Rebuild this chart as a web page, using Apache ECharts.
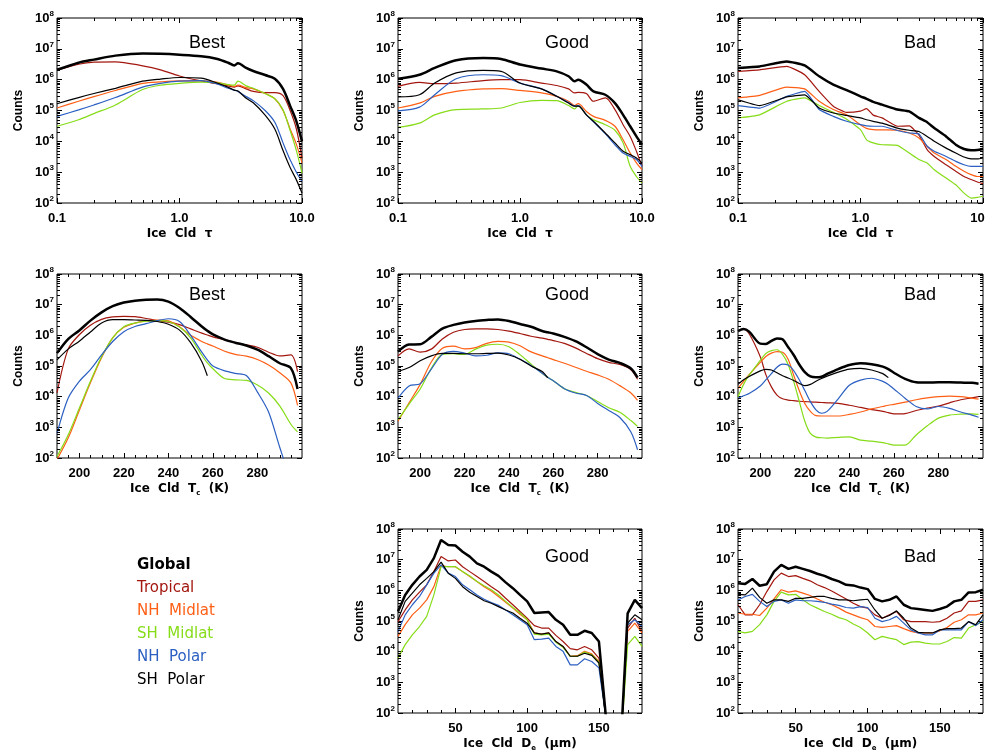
<!DOCTYPE html>
<html>
<head>
<meta charset="utf-8">
<script src="https://cdn.jsdelivr.net/npm/echarts@6/dist/echarts.min.js"></script>
<style>html,body{margin:0;padding:0;background:#fff}#c{width:985px;height:751px}</style>
</head>
<body>
<div id="c"></div>
<script>
// ---------------- DATA (values are log10 of Counts) ----------------
const seriesNames = ['Global', 'Tropical', 'NH Midlat', 'SH Midlat', 'NH Polar', 'SH Polar'];

// Tick labels
const countTicks = [1e2, 1e3, 1e4, 1e5, 1e6, 1e7, 1e8];
const tauTicks = [0.1, 1.0, 10.0];
const tempTicks = [200, 220, 240, 260, 280];
const deTicks = [50, 100, 150];

// Row 1: Ice cloud optical depth tau
const tauX = [0.1, 0.15, 0.2, 0.3, 0.5, 0.7, 1.0, 1.5, 2.0, 2.5, 2.8, 3.0, 3.5, 4.0, 5.0, 6.0, 7.0, 8.0, 9.0, 10];
const bestTauGlobal   = [6.32, 6.55, 6.65, 6.78, 6.85, 6.84, 6.81, 6.76, 6.68, 6.55, 6.46, 6.53, 6.38, 6.28, 6.15, 6.03, 5.70, 5.15, 4.65, 4.00];
const bestTauTropical = [6.30, 6.50, 6.57, 6.58, 6.45, 6.32, 6.12, 5.96, 5.87, 5.80, 5.76, 5.80, 5.70, 5.62, 5.58, 5.58, 5.48, 5.00, 4.40, 3.45];
const bestTauNHMid    = [5.08, 5.30, 5.45, 5.65, 5.88, 5.93, 5.96, 5.96, 5.92, 5.83, 5.78, 5.82, 5.74, 5.70, 5.55, 5.38, 5.00, 4.40, 3.90, 3.30];
const bestTauSHMid    = [4.49, 4.70, 4.90, 5.18, 5.68, 5.82, 5.88, 5.92, 5.90, 5.84, 5.82, 5.95, 5.80, 5.72, 5.55, 5.38, 5.02, 4.35, 3.70, 2.97];
const bestTauNHPol    = [4.81, 5.02, 5.18, 5.42, 5.76, 5.88, 5.95, 5.97, 5.87, 5.72, 5.66, 5.62, 5.45, 5.32, 5.00, 4.62, 3.95, 3.40, 3.00, 2.70];
const bestTauSHPol    = [5.22, 5.42, 5.55, 5.72, 5.95, 6.02, 6.07, 6.05, 5.90, 5.75, 5.66, 5.63, 5.40, 5.25, 4.85, 4.40, 3.70, 3.15, 2.75, 2.32];

const goodTauGlobal   = [6.03, 6.16, 6.38, 6.63, 6.70, 6.67, 6.49, 6.36, 6.27, 6.11, 5.95, 6.00, 5.84, 5.62, 5.51, 5.24, 4.86, 4.49, 4.16, 3.89];
const goodTauTropical = [5.78, 5.91, 5.87, 5.89, 5.97, 6.00, 6.00, 5.89, 5.81, 5.70, 5.57, 5.59, 5.55, 5.30, 5.41, 5.03, 4.54, 4.16, 3.68, 3.19];
const goodTauNHMid    = [5.08, 5.24, 5.46, 5.62, 5.70, 5.71, 5.65, 5.57, 5.46, 5.30, 5.16, 5.22, 4.97, 4.81, 4.68, 4.49, 4.05, 3.62, 3.30, 3.08];
const goodTauSHMid    = [4.45, 4.59, 4.86, 5.03, 5.05, 5.08, 5.26, 5.33, 5.32, 5.16, 5.05, 5.16, 4.86, 4.70, 4.54, 4.36, 3.95, 3.19, 2.86, 2.65];
const goodTauNHPol    = [4.99, 5.11, 5.51, 6.03, 6.16, 6.13, 5.89, 5.70, 5.46, 5.26, 5.14, 5.16, 4.86, 4.63, 4.25, 3.89, 3.62, 3.51, 3.41, 3.19];
const goodTauSHPol    = [5.44, 5.51, 5.89, 6.22, 6.30, 6.27, 5.89, 5.70, 5.46, 5.24, 5.14, 5.14, 4.86, 4.65, 4.27, 3.95, 3.68, 3.57, 3.46, 3.30];

const tauBadX = [0.1, 0.15, 0.25, 0.35, 0.46, 0.6, 0.77, 1.0, 1.12, 1.27, 1.5, 2.0, 2.5, 3.0, 3.5, 4.0, 5.0, 6.0, 7.0, 8.0, 9.0, 10];
const badTauGlobal   = [6.38, 6.43, 6.59, 6.46, 6.11, 5.84, 5.66, 5.46, 5.38, 5.28, 5.19, 5.03, 4.97, 4.76, 4.62, 4.43, 4.16, 3.89, 3.75, 3.71, 3.72, 3.75];
const badTauTropical = [6.27, 6.32, 6.43, 6.16, 5.62, 5.14, 4.94, 4.98, 5.06, 4.85, 4.76, 4.49, 4.50, 4.20, 3.73, 3.51, 3.24, 3.03, 2.86, 2.76, 2.68, 2.63];
const badTauNHMid    = [5.41, 5.49, 5.76, 5.70, 5.30, 5.03, 4.86, 4.54, 4.42, 4.38, 4.37, 4.36, 4.27, 4.11, 3.84, 3.62, 3.41, 3.19, 3.03, 2.92, 2.86, 2.86];
const badTauSHMid    = [4.76, 4.86, 5.30, 5.41, 5.16, 4.94, 4.72, 4.38, 4.05, 3.95, 3.89, 3.87, 3.62, 3.41, 3.30, 3.08, 2.81, 2.59, 2.32, 2.16, 2.18, 2.22];
const badTauNHPol    = [5.16, 5.08, 5.46, 5.62, 5.03, 4.81, 4.65, 4.54, 4.50, 4.49, 4.49, 4.35, 4.27, 4.24, 3.84, 3.68, 3.51, 3.35, 3.24, 3.19, 3.19, 3.19];
const badTauSHPol    = [5.35, 5.16, 5.44, 5.51, 5.08, 4.92, 4.84, 4.76, 4.70, 4.65, 4.59, 4.43, 4.36, 4.32, 4.16, 4.00, 3.78, 3.62, 3.49, 3.43, 3.43, 3.46];

// Row 2: Ice cloud top temperature (K)
const tempX = [190, 195, 200, 205, 210, 215, 220, 225, 230, 235, 240, 245, 250, 255, 257.5, 260, 265, 270, 275, 280, 285, 290, 295, 298];
const bestTGlobal   = [5.42, 5.88, 6.16, 6.48, 6.75, 6.95, 7.07, 7.13, 7.16, 7.17, 7.10, 6.89, 6.60, 6.29, 6.15, 6.03, 5.87, 5.76, 5.67, 5.53, 5.32, 5.09, 4.93, 4.25];
const bestTTropical = [4.12, 5.55, 6.02, 6.33, 6.52, 6.60, 6.62, 6.61, 6.55, 6.48, 6.43, 6.35, 6.21, 6.07, 6.01, 5.95, 5.86, 5.76, 5.69, 5.61, 5.45, 5.33, 5.36, 4.82];
const bestTNHMid    = [1.95, 2.65, 3.55, 4.45, 5.27, 5.92, 6.26, 6.40, 6.47, 6.50, 6.47, 6.28, 6.00, 5.80, 5.72, 5.65, 5.49, 5.38, 5.32, 5.21, 5.03, 4.78, 4.45, 3.72];
const bestTSHMid    = [2.05, 2.75, 3.62, 4.50, 5.30, 5.92, 6.28, 6.40, 6.46, 6.48, 6.45, 6.27, 5.92, 5.35, 5.10, 4.91, 4.60, 4.55, 4.53, 4.38, 4.12, 3.70, 3.10, 2.85];
const bestTNHPol    = [2.80, 3.95, 4.50, 4.88, 5.36, 5.80, 6.12, 6.29, 6.38, 6.48, 6.54, 6.45, 6.00, 5.45, 5.20, 5.00, 4.85, 4.76, 4.69, 4.15, 3.50, 2.35, 1.30, 1.00];
const bestTSHPol    = [5.20, 5.55, 5.81, 6.11, 6.40, 6.51, 6.51, 6.50, 6.49, 6.45, 6.36, 6.17, 5.76, 5.15, 4.68, null, null, null, null, null, null, null, null, null];

const goodTGlobal   = [5.47, 5.70, 5.71, 5.95, 6.22, 6.34, 6.42, 6.47, 6.50, 6.52, 6.47, 6.37, 6.28, 6.14, 6.10, 6.06, 5.95, 5.81, 5.61, 5.39, 5.21, 5.10, 4.92, 4.62];
const goodTTropical = [5.33, 5.56, 5.45, 5.55, 5.88, 6.10, 6.19, 6.21, 6.21, 6.19, 6.14, 6.06, 5.97, 5.91, 5.87, 5.83, 5.74, 5.59, 5.41, 5.24, 5.12, 5.05, 4.88, 4.57];
const goodTNHMid    = [3.20, 3.80, 4.40, 5.13, 5.58, 5.65, 5.56, 5.60, 5.74, 5.80, 5.78, 5.66, 5.46, 5.33, 5.27, 5.21, 5.09, 4.96, 4.83, 4.71, 4.57, 4.36, 4.12, 3.88];
const goodTSHMid    = [3.25, 3.76, 4.25, 4.92, 5.38, 5.40, 5.38, 5.55, 5.68, 5.71, 5.63, 5.37, 5.06, 4.76, 4.63, 4.52, 4.26, 4.14, 4.04, 3.84, 3.64, 3.49, 3.22, 3.03];
const goodTNHPol    = [3.95, 4.35, 4.42, 4.90, 5.38, 5.48, 5.42, 5.33, 5.35, 5.43, 5.40, 5.22, 5.02, 4.76, 4.63, 4.52, 4.26, 4.12, 4.04, 3.78, 3.55, 3.32, 2.85, 2.27];
const goodTSHPol    = [4.82, 4.95, 5.17, 5.33, 5.41, 5.41, 5.40, 5.40, 5.41, 5.42, 5.36, 5.22, 5.00, 4.82, 4.61, null, null, null, null, null, null, null, null, null];

const tempBadX = [190, 192.5, 195, 200, 202.5, 205, 207.5, 210, 212.5, 215, 217.5, 220, 222.5, 225, 227.5, 230, 235, 240, 245, 250, 255, 257.5, 260, 265, 270, 275, 280, 285, 290, 295, 298];
const badTGlobal   = [6.14, 6.21, 6.12, 5.73, 5.72, 5.82, 5.90, 5.87, 5.62, 5.36, 5.05, 4.80, 4.66, 4.63, 4.65, 4.74, 4.90, 5.03, 5.09, 5.06, 4.98, 4.90, 4.78, 4.58, 4.47, 4.46, 4.47, 4.47, 4.46, 4.45, 4.42];
const badTTropical = [6.15, 6.20, 6.05, 5.30, 4.72, 4.32, 4.05, 3.93, 3.89, 3.87, 3.85, 3.84, 3.83, 3.82, 3.81, 3.80, 3.78, 3.72, 3.65, 3.58, 3.52, 3.48, 3.44, 3.45, 3.55, 3.63, 3.69, 3.80, 3.90, 3.96, 4.00];
const badTNHMid    = [4.27, 4.50, 4.72, 5.12, 5.31, 5.42, 5.47, 5.45, 5.22, 4.70, 4.20, 3.78, 3.52, 3.38, 3.37, 3.37, 3.37, 3.42, 3.50, 3.60, 3.68, 3.72, 3.75, 3.82, 3.90, 3.96, 4.00, 4.02, 4.00, 3.95, 3.92];
const badTSHMid    = [4.00, 4.40, 4.70, 5.18, 5.41, 5.50, 5.53, 5.38, 5.05, 4.50, 3.85, 3.20, 2.80, 2.68, 2.66, 2.65, 2.67, 2.69, 2.58, 2.55, 2.50, 2.46, 2.42, 2.42, 2.75, 3.05, 3.30, 3.40, 3.43, 3.44, 3.42];
const badTNHPol    = [3.95, 4.03, 4.10, 4.35, 4.55, 4.75, 4.96, 5.06, 5.03, 4.85, 4.55, 4.20, 3.84, 3.57, 3.46, 3.52, 3.93, 4.37, 4.54, 4.60, 4.50, 4.40, 4.25, 3.95, 3.68, 3.60, 3.68, 3.62, 3.50, 3.40, 3.33];
const badTSHPol    = [4.40, 4.55, 4.66, 4.84, 4.89, 4.87, 4.78, 4.68, 4.61, 4.53, 4.43, 4.36, 4.40, 4.50, 4.59, 4.67, 4.80, 4.90, 4.92, 4.87, 4.75, 4.62, null, null, null, null, null, null, null, null, null];

// Row 3: Ice cloud effective diameter De (um)
const deX = [10, 15, 20, 25, 30, 35, 40, 45, 50, 55, 60, 65, 70, 75, 80, 85, 90, 95, 100, 105, 110, 115, 120, 125, 130, 135, 140, 145, 150, 155, 160, 165, 170, 175, 180];
const goodDGlobal   = [5.31, 5.85, 6.18, 6.45, 6.67, 7.05, 7.64, 7.48, 7.46, 7.26, 7.10, 6.88, 6.77, 6.61, 6.47, 6.26, 6.07, 5.85, 5.64, 5.26, 5.28, 5.29, 5.04, 4.88, 4.55, 4.55, 4.68, 4.61, 4.33, 1.8, null, 0.8, 5.25, 5.69, 5.42];
const goodDTropical = [4.98, 5.36, 5.69, 5.94, 6.18, 6.61, 7.10, 6.96, 6.99, 6.77, 6.61, 6.45, 6.29, 6.12, 5.96, 5.74, 5.53, 5.31, 5.09, 4.85, 4.77, 4.77, 4.53, 4.33, 4.10, 4.06, 4.17, 4.06, 3.79, 1.8, null, 0.8, 4.77, 5.09, 4.66];
const goodDNHMid    = [4.50, 4.88, 5.20, 5.42, 5.69, 6.12, 6.81, 6.77, 6.77, 6.61, 6.45, 6.29, 6.12, 5.98, 5.80, 5.61, 5.42, 5.22, 5.04, 4.61, 4.57, 4.61, 4.33, 4.17, 3.85, 3.87, 4.01, 3.93, 3.68, 1.8, null, 0.8, 4.66, 4.93, 4.61];
const goodDSHMid    = [3.79, 4.23, 4.55, 4.82, 5.15, 5.85, 6.77, 6.77, 6.77, 6.61, 6.47, 6.29, 6.15, 6.02, 5.85, 5.64, 5.44, 5.26, 5.04, 4.57, 4.55, 4.57, 4.31, 4.14, 3.85, 3.85, 3.99, 3.90, 3.66, 1.8, null, 0.8, 4.23, 4.50, 4.17];
const goodDNHPol    = [4.66, 5.20, 5.53, 5.80, 6.18, 6.56, 6.83, 6.56, 6.45, 6.18, 6.02, 5.85, 5.71, 5.60, 5.51, 5.36, 5.20, 5.04, 4.88, 4.39, 4.41, 4.44, 4.17, 4.01, 3.57, 3.57, 3.77, 3.68, 3.47, 1.8, null, 0.8, 4.88, 5.04, 4.82];
const goodDSHPol    = [5.04, 5.64, 5.91, 6.18, 6.39, 6.61, 6.92, 6.56, 6.39, 6.12, 5.94, 5.80, 5.66, 5.58, 5.47, 5.36, 5.26, 5.09, 4.93, 4.61, 4.57, 4.61, 4.33, 4.17, 3.85, 3.85, 3.95, 3.88, 3.63, 1.8, null, 0.8, 4.93, 5.20, 5.04];

const badDGlobal   = [6.23, 6.21, 6.37, 6.15, 6.20, 6.61, 6.83, 6.70, 6.77, 6.70, 6.63, 6.54, 6.47, 6.37, 6.29, 6.18, 6.16, 6.09, 6.04, 5.72, 5.64, 5.69, 5.80, 5.53, 5.42, 5.39, 5.36, 5.33, 5.39, 5.47, 5.64, 5.69, 5.93, 5.94, 6.02];
const badDTropical = [5.53, 5.20, 5.20, 5.53, 5.96, 6.34, 6.56, 6.45, 6.48, 6.39, 6.31, 6.18, 6.09, 5.98, 5.85, 5.72, 5.58, 5.47, 5.42, 5.20, 5.09, 5.20, 5.31, 5.04, 4.98, 4.98, 4.98, 4.96, 4.98, 5.09, 5.26, 5.33, 5.64, 5.64, 5.69];
const badDNHMid    = [5.26, 5.22, 5.22, 5.18, 5.42, 5.72, 6.02, 5.94, 5.98, 5.91, 5.83, 5.72, 5.61, 5.53, 5.42, 5.29, 5.20, 5.11, 5.04, 4.82, 4.79, 4.82, 4.85, 4.75, 4.66, 4.61, 4.61, 4.61, 4.68, 4.79, 4.96, 5.04, 5.20, 5.20, 5.26];
const badDSHMid    = [4.66, 4.61, 4.66, 4.88, 5.20, 5.64, 5.94, 5.85, 5.87, 5.69, 5.53, 5.42, 5.31, 5.22, 5.11, 5.04, 4.90, 4.79, 4.61, 4.39, 4.50, 4.44, 4.39, 4.23, 4.31, 4.33, 4.28, 4.25, 4.25, 4.33, 4.46, 4.44, 4.77, 4.88, 4.98];
const badDNHPol    = [5.69, 5.80, 5.87, 5.64, 5.47, 5.64, 5.69, 5.58, 5.69, 5.66, 5.66, 5.64, 5.61, 5.55, 5.51, 5.44, 5.42, 5.47, 5.44, 5.09, 4.98, 5.04, 5.15, 4.93, 4.71, 4.61, 4.55, 4.55, 4.71, 4.71, 4.71, 4.71, 4.98, 4.85, 5.04];
const badDSHPol    = [5.87, 5.85, 6.07, 5.77, 5.58, 5.69, 5.69, 5.64, 5.74, 5.74, 5.77, 5.80, 5.80, 5.74, 5.69, 5.69, 5.66, 5.69, 5.71, 5.36, 5.09, 5.18, 5.33, 5.09, 4.77, 4.63, 4.61, 4.61, 4.71, 4.75, 4.75, 4.77, 4.98, 4.88, 5.20];

// ---------------- LAYOUT & STYLE ----------------
const FONT = '"Liberation Sans", Arial, sans-serif';
const WIDEFONT = '"DejaVu Sans", "Liberation Sans", sans-serif';
const seriesColors = ['#000000', '#a3170f', '#ff5f15', '#86dc18', '#2b5fc2', '#000000'];
const seriesWidths = [2.5, 1.2, 1.2, 1.2, 1.2, 1.2];
const colLeft = [57, 398, 738], colWidth = [245, 244, 245];
const rowTop = [18, 274, 529], rowHeight = [185, 184, 184];
const titleX = [207, 567, 920], titleY = [43, 295, 557];

function minorsOf(kind) {
  if (kind === 'tau') return [0.2,0.3,0.4,0.5,0.6,0.7,0.8,0.9,2,3,4,5,6,7,8,9];
  if (kind === 'temp') { const a=[]; for (let v=195; v<300; v+=5) if (tempTicks.indexOf(v)<0) a.push(v); return a; }
  const a=[]; for (let v=20; v<180; v+=10) if (deTicks.indexOf(v)<0) a.push(v); return a;
}
const countMinors = (function(){ const a=[]; for (let e=2;e<8;e++) for (let m=2;m<10;m++) a.push(m*Math.pow(10,e)); return a; })();

const axisKinds = {
  tau:  {type:'log', min:0.1, max:10, major: tauTicks, fmt: v => Number(v).toFixed(1), name:'Ice  Cld  τ'},
  temp: {type:'value', min:190, max:300, major: tempTicks, fmt: v => String(v), name:'Ice  Cld  T{sub|c}  (K)'},
  de:   {type:'value', min:10, max:180, major: deTicks, fmt: v => String(v), name:'Ice  Cld  D{sub|e}  (μm)'}
};

const panels = [
  {row:0, col:0, kind:'tau', title:'Best', x: tauX, ys:[bestTauGlobal, bestTauTropical, bestTauNHMid, bestTauSHMid, bestTauNHPol, bestTauSHPol]},
  {row:0, col:1, kind:'tau', title:'Good', x: tauX, ys:[goodTauGlobal, goodTauTropical, goodTauNHMid, goodTauSHMid, goodTauNHPol, goodTauSHPol]},
  {row:0, col:2, kind:'tau', title:'Bad', x: tauBadX, ys:[badTauGlobal, badTauTropical, badTauNHMid, badTauSHMid, badTauNHPol, badTauSHPol]},
  {row:1, col:0, kind:'temp', title:'Best', x: tempX, ys:[bestTGlobal, bestTTropical, bestTNHMid, bestTSHMid, bestTNHPol, bestTSHPol]},
  {row:1, col:1, kind:'temp', title:'Good', x: tempX, ys:[goodTGlobal, goodTTropical, goodTNHMid, goodTSHMid, goodTNHPol, goodTSHPol]},
  {row:1, col:2, kind:'temp', title:'Bad', x: tempBadX, ys:[badTGlobal, badTTropical, badTNHMid, badTSHMid, badTNHPol, badTSHPol]},
  {row:2, col:1, kind:'de', title:'Good', x: deX, ys:[goodDGlobal, goodDTropical, goodDNHMid, goodDSHMid, goodDNHPol, goodDSHPol]},
  {row:2, col:2, kind:'de', title:'Bad', x: deX, ys:[badDGlobal, badDTropical, badDNHMid, badDSHMid, badDNHPol, badDSHPol]}
];

const grids = [], xAxes = [], yAxes = [], series = [], graphics = [];
const tickLine = {color:'#000', width:1};
const labelBase = {color:'#000', fontFamily: FONT, fontWeight:'bold', fontSize:13};

panels.forEach((p, gi) => {
  const ax = axisKinds[p.kind];
  grids.push({left: colLeft[p.col], top: rowTop[p.row], width: colWidth[p.col], height: rowHeight[p.row],
              show: true, borderColor:'#000', borderWidth:1, backgroundColor:'rgba(0,0,0,0)',
              containLabel:false, outerBoundsMode:'none'});
  const xb = {type: ax.type, gridIndex: gi, min: ax.min, max: ax.max, splitLine:{show:false}, axisLine:{show:false}};
  if (ax.type === 'log') xb.logBase = 10;
  const majorTickX = ax.type === 'log' ? {show:true, inside:true, length:5, lineStyle:tickLine}
                                        : {show:true, inside:true, length:5, lineStyle:tickLine, customValues: ax.major};
  const xi = xAxes.length;
  const xLabel = Object.assign({}, labelBase, {show:true, margin:9, formatter: ax.fmt,
      alignMinLabel:'center', alignMaxLabel:'center', hideOverlap:false});
  if (ax.type !== 'log') xLabel.customValues = ax.major;
  xAxes.push(Object.assign({}, xb, {position:'bottom', axisTick: majorTickX, axisLabel: xLabel,
      name: ax.name, nameLocation:'middle', nameGap: p.row === 0 ? 20 : 23,
      nameTextStyle: {color:'#000', fontFamily: WIDEFONT, fontWeight:'bold', fontSize:12, lineHeight:16,
                      rich: {sub: {color:'#000', fontFamily: WIDEFONT, fontWeight:'bold', fontSize:7, lineHeight:10, verticalAlign:'bottom'}}}}));
  xAxes.push(Object.assign({}, xb, {position:'top', axisTick: majorTickX, axisLabel:{show:false}}));

  const yb = {type:'log', logBase:10, gridIndex: gi, min:100, max:1e8, splitLine:{show:false}, axisLine:{show:false}};
  const yi = yAxes.length;
  yAxes.push(Object.assign({}, yb, {position:'left', axisTick:{show:true, inside:true, length:5, lineStyle:tickLine},
      axisLabel: {show:true, margin:3, formatter: v => '{b|10}{s|' + Math.round(Math.log10(v)) + '}',
        rich: {b: Object.assign({}, labelBase, {fontSize:13, lineHeight:17}),
               s: Object.assign({}, labelBase, {fontSize:8, lineHeight:9, verticalAlign:'top'})}},
      name:'Counts', nameLocation:'middle', nameRotate:90, nameGap:32,
      nameTextStyle:{color:'#000', fontFamily: FONT, fontWeight:'bold', fontSize:12}}));
  yAxes.push(Object.assign({}, yb, {position:'right', axisTick:{show:true, inside:true, length:5, lineStyle:tickLine}, axisLabel:{show:false}}));

  // data series
  p.ys.forEach((arr, si) => {
    series.push({
      type:'line', name: seriesNames[si], xAxisIndex: xi, yAxisIndex: yi,
      data: p.x.map((xv, k) => [xv, arr[k] == null ? null : Math.pow(10, arr[k])]),
      showSymbol:false, symbol:'none', smooth: p.row === 2 ? false : (gi === 2 ? 0.15 : 0.3),
      lineStyle:{color: seriesColors[si], width: seriesWidths[si]}, itemStyle:{color: seriesColors[si]},
      z: si === 0 ? 3 : 2, clip:true, animation:false
    });
  });

  // minor ticks (drawn through the axes' scales)
  const xm = minorsOf(p.kind);
  series.push({type:'custom', xAxisIndex: xi, yAxisIndex: yi, silent:true, clip:false, z:6, animation:false,
    data: xm.map(v => [v, 100]),
    renderItem: (params, api) => {
      const cs = params.coordSys; const pt = api.coord([api.value(0), api.value(1)]);
      const x = Math.round(pt[0]) + 0.5, b = cs.y + cs.height, t = cs.y;
      return {type:'group', children:[
        {type:'line', shape:{x1:x, y1:b, x2:x, y2:b-3}, style:{stroke:'#000', lineWidth:1}},
        {type:'line', shape:{x1:x, y1:t, x2:x, y2:t+3}, style:{stroke:'#000', lineWidth:1}}]};
    }});
  series.push({type:'custom', xAxisIndex: xi, yAxisIndex: yi, silent:true, clip:false, z:6, animation:false,
    data: countMinors.map(v => [ax.min, v]),
    renderItem: (params, api) => {
      const cs = params.coordSys; const pt = api.coord([api.value(0), api.value(1)]);
      const y = Math.round(pt[1]) + 0.5, l = cs.x, r = cs.x + cs.width;
      return {type:'group', children:[
        {type:'line', shape:{x1:l, y1:y, x2:l+3, y2:y}, style:{stroke:'#000', lineWidth:1}},
        {type:'line', shape:{x1:r, y1:y, x2:r-3, y2:y}, style:{stroke:'#000', lineWidth:1}}]};
    }});

  graphics.push({type:'text', x: titleX[p.col], y: titleY[p.row], silent:true,
    style:{text: p.title, fill:'#000', font:'18px ' + FONT, align:'center', verticalAlign:'middle',
           textAlign:'center', textVerticalAlign:'middle'}});
});

const option = {
  animation:false,
  backgroundColor:'#ffffff',
  grid: grids, xAxis: xAxes, yAxis: yAxes, series: series,
  graphic: graphics,
  legend: {
    orient:'vertical', left:127, top:552, itemWidth:0, itemHeight:0, itemGap:6, icon:'rect',
    formatter: n => n.replace(' ', '  '),
    textStyle:{fontFamily: WIDEFONT, fontSize:15, lineHeight:17},
    data: seriesNames.map((n, i) => ({name:n, textStyle:{color: seriesColors[i], fontWeight: i === 0 ? 'bold' : 'normal'}}))
  }
};

const chart = echarts.init(document.getElementById('c'), null, {width:985, height:751});
chart.setOption(option);
</script>
</body>
</html>
